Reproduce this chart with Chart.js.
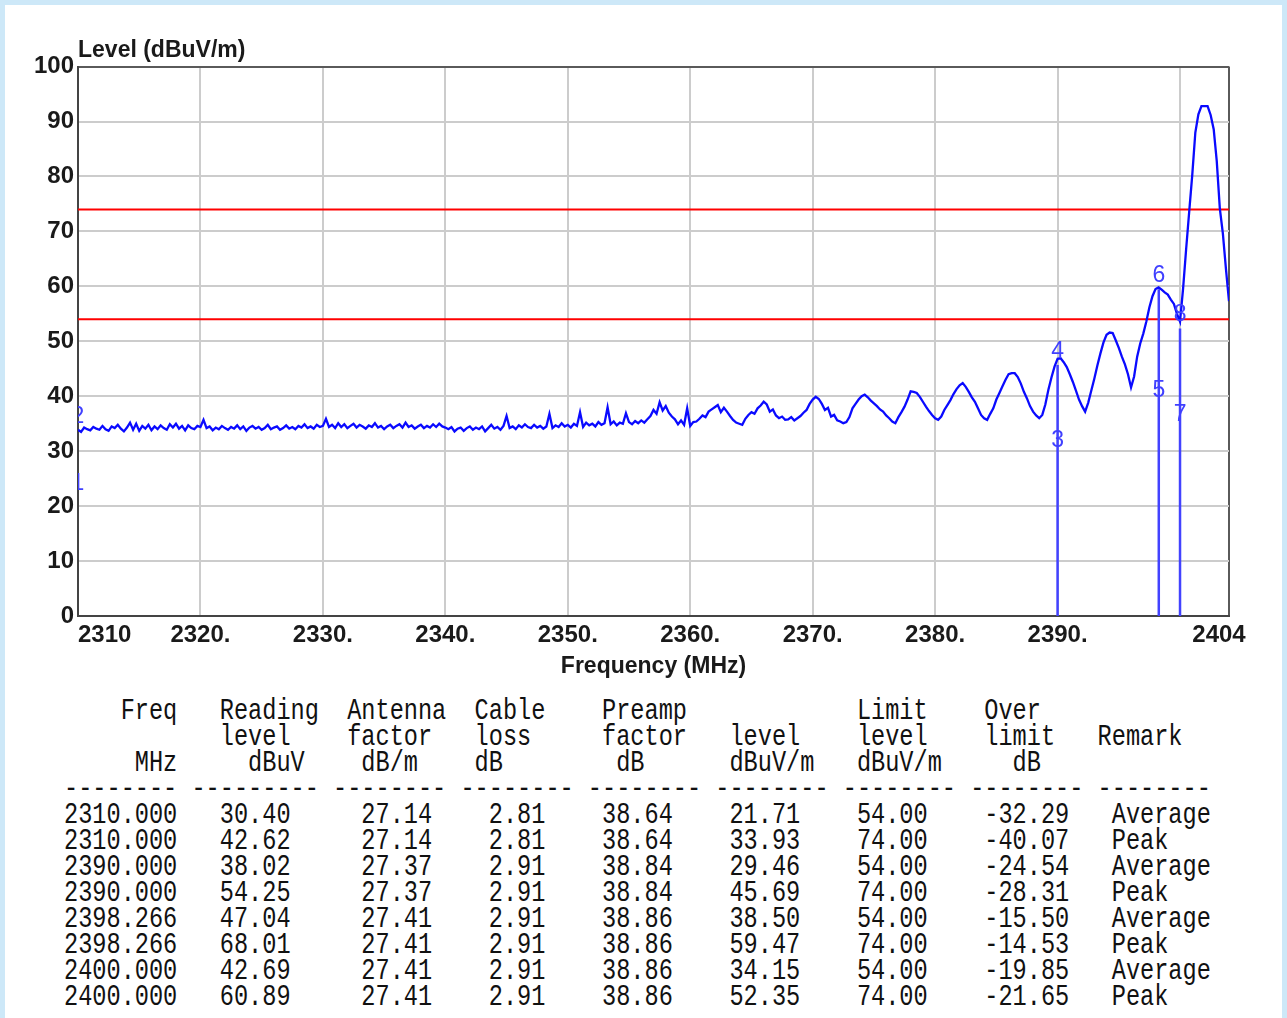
<!DOCTYPE html>
<html>
<head>
<meta charset="utf-8">
<script src="https://cdn.jsdelivr.net/npm/chart.js@4.4.1/dist/chart.umd.min.js"></script>
<style>
html,body{margin:0;padding:0;}
body{width:1287px;height:1018px;background:#cde8f8;position:relative;overflow:hidden;}
#panel{position:absolute;left:5px;top:5px;width:1277px;height:1013px;background:#ffffff;}
#chart{position:absolute;left:0;top:0;}
#table{position:absolute;left:64px;top:0;font-family:'Liberation Mono','DejaVu Sans Mono',monospace;font-size:23.6px;color:#111;}
.row{position:absolute;left:0;height:26px;line-height:26px;white-space:pre;transform:scaleY(1.25);transform-origin:50% 50%;}
</style>
</head>
<body>
<div id="panel"></div>
<canvas id="chart" width="1287" height="690"></canvas>
<div id="table"></div>
<script>
const sweepStartMHz = 2310;
const sweepStepMHz = 0.25;
const traceLevels = [
  33.9,33.5,34.3,34.0,33.8,34.4,34.1,33.9,34.6,34.0,33.7,34.5,34.2,34.8,34.1,33.6,34.3,35.2,33.9,35.0,
  33.7,34.6,34.1,34.8,33.8,34.5,34.0,34.7,34.2,33.9,34.9,34.3,35.0,34.1,34.6,33.8,34.7,34.2,34.0,34.6,
  34.4,35.7,34.2,34.5,33.8,34.3,34.0,34.6,34.2,33.9,34.4,34.1,34.7,34.0,34.5,33.7,34.3,34.6,34.1,34.4,
  33.9,34.2,34.8,34.0,34.3,34.5,33.9,34.2,34.7,34.1,34.4,34.0,34.6,34.3,34.9,34.2,34.5,34.1,34.8,34.4,
  34.6,35.9,34.4,34.8,34.2,35.1,34.4,34.9,34.2,34.6,35.0,34.3,34.8,34.5,34.1,34.7,34.4,35.1,34.3,34.6,
  34.0,34.5,34.8,34.2,34.6,34.9,34.3,35.2,34.4,34.7,34.1,34.5,34.8,34.2,34.6,34.3,34.9,34.4,35.0,34.5,
  34.3,34.0,34.4,33.6,34.1,34.3,33.7,34.2,34.5,33.9,34.3,34.0,34.5,33.6,34.2,34.8,34.1,34.4,33.9,34.6,
  36.4,34.2,34.5,34.0,34.7,34.3,34.9,34.4,34.2,34.8,34.3,34.6,34.1,34.5,36.8,34.2,34.7,34.4,35.1,34.5,
  34.8,34.3,35.0,34.6,37.1,34.4,35.2,34.7,35.0,34.5,35.3,34.8,35.1,38.0,34.9,35.4,34.7,35.2,35.0,36.9,
  35.3,34.9,35.5,35.1,35.6,35.2,35.8,36.4,37.5,36.8,38.9,37.4,38.2,37.0,36.3,35.8,34.9,35.6,34.8,37.8,
  34.6,35.3,35.4,35.9,36.5,36.2,37.2,37.6,38.0,38.4,37.1,37.9,37.2,36.4,35.7,35.2,35.0,34.8,35.9,36.6,
  37.1,36.8,37.8,38.3,39.0,38.5,37.2,37.6,36.5,36.0,36.3,35.7,35.8,36.2,35.6,36.0,36.4,37.0,37.5,38.6,
  39.4,39.9,39.5,38.6,37.5,37.9,36.3,36.6,35.6,35.4,35.1,35.3,36.2,37.8,38.6,39.4,40.0,40.3,39.8,39.2,
  38.7,38.2,37.6,37.2,36.5,36.0,35.4,35.1,36.2,37.1,38.1,39.4,40.9,40.8,40.6,39.9,39.0,38.1,37.3,36.6,
  36.0,35.7,36.3,37.5,38.4,39.3,40.4,41.3,42.0,42.4,41.7,40.8,39.8,39.0,37.8,36.6,36.0,35.7,36.8,37.8,
  39.4,40.6,41.8,43.0,44.0,44.2,44.2,43.5,42.3,40.8,39.6,38.2,37.2,36.5,36.0,36.6,38.5,41.2,43.4,45.4,
  46.8,46.9,46.2,45.3,44.0,42.6,41.0,39.4,38.2,37.2,38.8,41.0,43.2,45.6,47.8,49.8,51.2,51.6,51.5,50.2,
  48.8,47.2,45.8,44.0,41.6,43.6,47.2,49.6,51.4,53.6,56.2,58.2,59.5,59.8,59.4,58.9,58.5,57.6,56.8,55.0,
  53.6,59.6,66.8,73.6,80.3,88.0,91.3,92.8,92.8,92.8,91.2,88.6,82.8,74.2,69.6,63.2,57.3
];

// ---- axes ----
const xMin = 2310, xMax = 2404;
const xTickValues = [2310,2320,2330,2340,2350,2360,2370,2380,2390,2400,2404];
const xTickLabels = ['2310','2320.','2330.','2340.','2350.','2360.','2370.','2380.','2390.','','2404'];
const yMin = 0, yMax = 100, yStep = 10;

// ---- limit lines ----
const limitLines = [74, 54];

// ---- marker table ----
const markerFreq    = [2310.000,2310.000,2390.000,2390.000,2398.266,2398.266,2400.000,2400.000];
const readingLevel  = [30.40,42.62,38.02,54.25,47.04,68.01,42.69,60.89];
const antennaFactor = [27.14,27.14,27.37,27.37,27.41,27.41,27.41,27.41];
const cableLoss     = [2.81,2.81,2.91,2.91,2.91,2.91,2.91,2.91];
const preampFactor  = [38.64,38.64,38.84,38.84,38.86,38.86,38.86,38.86];
const emissionLevel = [21.71,33.93,29.46,45.69,38.50,59.47,34.15,52.35];
const limitLevel    = [54.00,74.00,54.00,74.00,54.00,74.00,54.00,74.00];
const overLimit     = [-32.29,-40.07,-24.54,-28.31,-15.50,-14.53,-19.85,-21.65];
const remarks       = ['Average','Peak','Average','Peak','Average','Peak','Average','Peak'];

// ---- build datasets ----
const tracePoints = traceLevels.map((v,i)=>({x: sweepStartMHz + i*sweepStepMHz, y: v}));

const markerPoints = markerFreq.map((f,i)=>({x:f, y:emissionLevel[i]}));

const stickPoints = [];
const uniqueFreq = [...new Set(markerFreq)].filter(f => f > xMin);
uniqueFreq.forEach(f=>{
  let top = 0;
  markerFreq.forEach((g,i)=>{ if (g === f) top = Math.max(top, emissionLevel[i]); });
  stickPoints.push({x:f, y:0}, {x:f, y:top}, {x:f, y:null});
});

const limitDatasets = limitLines.map(v => ({
  data: [{x:xMin, y:v}, {x:xMax, y:v}],
  borderColor: '#ff0000', borderWidth: 2, pointRadius: 0, order: 3
}));

const markerLabelPlugin = {
  id: 'markerLabels',
  afterDatasetsDraw(chart){
    const meta = chart.getDatasetMeta(2);
    const {ctx, chartArea:a} = chart;
    ctx.save();
    ctx.beginPath();
    ctx.rect(a.left, a.top, a.right - a.left, a.bottom - a.top);
    ctx.clip();
    ctx.font = '23px "Liberation Sans", Arial, sans-serif';
    ctx.fillStyle = '#4040ff';
    ctx.textAlign = 'center';
    ctx.textBaseline = 'alphabetic';
    meta.data.forEach((pt, i) => { ctx.fillText(String(i + 1), pt.x, pt.y - 7); });
    ctx.restore();
  }
};

const labelFont = {family: '"Liberation Sans", Arial, sans-serif', size: 24, weight: 'bold'};

try {
new Chart(document.getElementById('chart'), {
  type: 'line',
  data: {
    datasets: [
      {data: tracePoints, borderColor: '#0a0aff', borderWidth: 2.3, pointRadius: 0, tension: 0, order: 0},
      {data: stickPoints, borderColor: '#4242ff', borderWidth: 2.5, pointRadius: 0, spanGaps: false, order: 1},
      {data: markerPoints, showLine: false, pointRadius: 0, order: 2},
      ...limitDatasets
    ]
  },
  options: {
    responsive: false,
    animation: false,
    devicePixelRatio: 1,
    layout: {padding: {left: 0, right: 58, top: 0, bottom: 0}},
    plugins: {
      legend: {display: false},
      tooltip: {enabled: false},
      title: {
        display: true, text: 'Level (dBuV/m)', align: 'start', fullSize: false,
        color: '#1a1a1a', font: {family: '"Liberation Sans", Arial, sans-serif', size: 23, weight: 'bold'},
        padding: {top: 37, bottom: 2}
      }
    },
    scales: {
      x: {
        type: 'linear', min: xMin, max: xMax,
        afterBuildTicks: s => { s.ticks = xTickValues.map(v => ({value: v})); },
        afterFit: s => { s.height = 74; },
        ticks: {
          autoSkip: false, maxRotation: 0, minRotation: 0, padding: 5,
          color: '#1a1a1a', font: labelFont,
          callback: (v, i) => {
            const t = xTickLabels[i];
            if (i === 0) return '        ' + t;
            if (i === xTickLabels.length - 1) return t + '   ';
            return t;
          }
        },
        grid: {
          drawTicks: false, lineWidth: 2,
          color: c => (c.tick && c.tick.value === xMax) ? '#5a5a5a' : '#cccccc'
        },
        border: {color: '#444444', width: 2},
        title: {
          display: true, text: 'Frequency (MHz)', color: '#1a1a1a',
          font: {family: '"Liberation Sans", Arial, sans-serif', size: 23, weight: 'bold'},
          padding: {top: 0, bottom: 10}
        }
      },
      y: {
        type: 'linear', min: yMin, max: yMax,
        afterFit: s => { s.width = 78; },
        ticks: {stepSize: yStep, padding: 4, color: '#1a1a1a', font: labelFont, callback: v => String(v)},
        grid: {
          drawTicks: false, lineWidth: 2,
          color: c => (c.tick && c.tick.value === yMax) ? '#5a5a5a' : '#cccccc'
        },
        border: {color: '#444444', width: 2}
      }
    }
  },
  plugins: [markerLabelPlugin]
});
} catch (e) { console.error(e); }

// ---- table (monospace grid) ----
function place(parts){
  let s = '';
  parts.forEach(([col, text]) => {
    while (s.length < col) s += ' ';
    s += text;
  });
  return s;
}
const dash = n => '-'.repeat(n);
const lines = [
  place([[4,'Freq'],[11,'Reading'],[20,'Antenna'],[29,'Cable'],[38,'Preamp'],[56,'Limit'],[65,'Over']]),
  place([[11,'level'],[20,'factor'],[29,'loss'],[38,'factor'],[47,'level'],[56,'level'],[65,'limit'],[73,'Remark']]),
  place([[5,'MHz'],[13,'dBuV'],[21,'dB/m'],[29,'dB'],[39,'dB'],[47,'dBuV/m'],[56,'dBuV/m'],[67,'dB']]),
  place([[0,dash(8)],[9,dash(9)],[19,dash(8)],[28,dash(8)],[37,dash(8)],[46,dash(8)],[55,dash(8)],[64,dash(8)],[73,dash(8)]])
];
markerFreq.forEach((f, i) => {
  lines.push(place([
    [0, f.toFixed(3)], [11, readingLevel[i].toFixed(2)], [21, antennaFactor[i].toFixed(2)],
    [30, cableLoss[i].toFixed(2)], [38, preampFactor[i].toFixed(2)], [47, emissionLevel[i].toFixed(2)],
    [56, limitLevel[i].toFixed(2)], [65, overLimit[i].toFixed(2)], [74, remarks[i]]
  ]));
});
const table = document.getElementById('table');
lines.forEach((txt, k) => {
  const d = document.createElement('div');
  d.className = 'row';
  d.style.top = (698 + 26 * k) + 'px';
  d.textContent = txt;
  table.appendChild(d);
});
</script>
</body>
</html>
